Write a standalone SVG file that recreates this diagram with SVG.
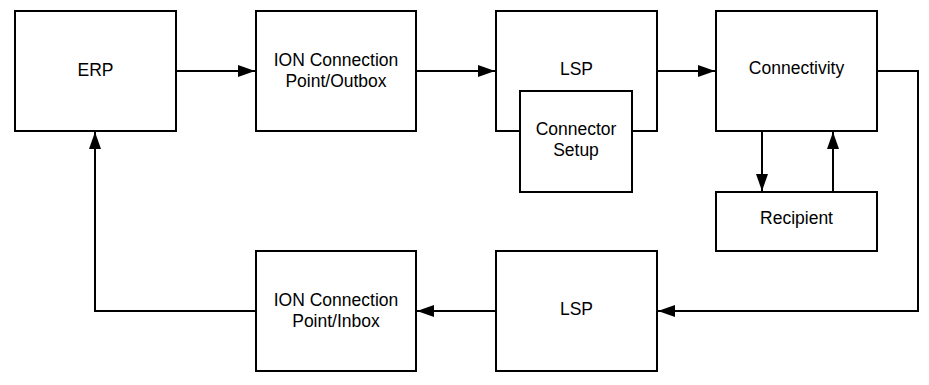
<svg xmlns="http://www.w3.org/2000/svg" width="929" height="385" viewBox="0 0 929 385">
<style>
.box{fill:#fff;stroke:#000;stroke-width:2}
.lbl{font-family:"Liberation Sans",Arial,sans-serif;font-size:17.5px;fill:#000;text-anchor:middle}
.edge{fill:none;stroke:#000;stroke-width:2}
</style>
<defs>
<marker id="arr" markerUnits="userSpaceOnUse" markerWidth="18" markerHeight="12" refX="17" refY="6" orient="auto">
<path d="M0,0 L17,6 L0,12 Z" fill="#000"/>
</marker>
</defs>
<rect width="929" height="385" fill="#fff"/>
<g id="connectors">
<path class="edge" d="M176,71 H255" marker-end="url(#arr)"/>
<path class="edge" d="M416,71 H495" marker-end="url(#arr)"/>
<path class="edge" d="M657,71 H715" marker-end="url(#arr)"/>
<path class="edge" d="M877,71 H918 V311 H658" marker-end="url(#arr)"/>
<path class="edge" d="M496,311 H417" marker-end="url(#arr)"/>
<path class="edge" d="M256,311 H95 V132" marker-end="url(#arr)"/>
<path class="edge" d="M762,131 V191" marker-end="url(#arr)"/>
<path class="edge" d="M833,192 V132" marker-end="url(#arr)"/>
</g>
<g id="erp">
<rect class="box" x="15" y="11" width="161" height="120"/>
<text class="lbl" x="95.5" y="76">ERP</text>
</g>
<g id="ion-outbox">
<rect class="box" x="256" y="11" width="160" height="120"/>
<text class="lbl" x="336" y="66">ION Connection</text>
<text class="lbl" x="336" y="87">Point/Outbox</text>
</g>
<g id="lsp-top">
<rect class="box" x="496" y="11" width="161" height="120"/>
<text class="lbl" x="576.5" y="75">LSP</text>
</g>
<g id="connector-setup">
<rect class="box" x="520" y="91" width="112" height="101"/>
<text class="lbl" x="576" y="135">Connector</text>
<text class="lbl" x="576" y="156">Setup</text>
</g>
<g id="connectivity">
<rect class="box" x="716" y="11" width="161" height="120"/>
<text class="lbl" x="796.5" y="74">Connectivity</text>
</g>
<g id="recipient">
<rect class="box" x="716" y="192" width="161" height="59"/>
<text class="lbl" x="796.5" y="224">Recipient</text>
</g>
<g id="lsp-bottom">
<rect class="box" x="496" y="251" width="161" height="120"/>
<text class="lbl" x="576.5" y="315">LSP</text>
</g>
<g id="ion-inbox">
<rect class="box" x="256" y="251" width="160" height="120"/>
<text class="lbl" x="336" y="306">ION Connection</text>
<text class="lbl" x="336" y="327">Point/Inbox</text>
</g>
</svg>
